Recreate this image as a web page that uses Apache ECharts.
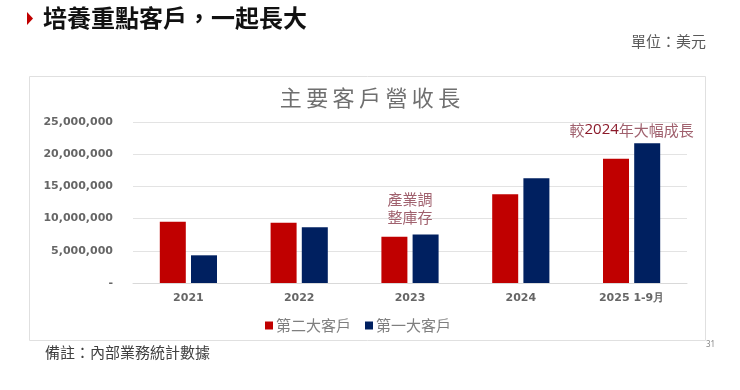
<!DOCTYPE html>
<html>
<head>
<meta charset="utf-8">
<script src="https://cdn.jsdelivr.net/npm/echarts@6/dist/echarts.min.js"></script>
<style>html,body{margin:0;padding:0;background:#fff;}#c{width:740px;height:390px;}</style>
</head>
<body>
<div id="c"></div>
<script>
const categories = ['2021', '2022', '2023', '2024', '2025 1-9月'];
const secondCustomer = [9500000, 9350000, 7200000, 13800000, 19300000];
const firstCustomer = [4300000, 8650000, 7550000, 16250000, 21700000];
const seriesNames = ['第二大客戶', '第一大客戶'];
const yTicks = [0, 5000000, 10000000, 15000000, 20000000, 25000000];
const notes = [
  { cat: '2023', value: 11650000, text: '產業調\n整庫存' },
  { cat: '2025 1-9月', value: 23750000, text: '{a|較}{b|2024}{a|年大幅成長}' }
];

const FONT = '"Noto Sans CJK TC", "Noto Sans", sans-serif';
const NUMFONT = '"DejaVu Sans", sans-serif';
const chart = echarts.init(document.getElementById('c'));
chart.setOption({
  backgroundColor: '#fff',
  animation: false,
  textStyle: { fontFamily: FONT },
  title: {
    text: '主 要 客 戶 營 收 長'.replace(/ /g, '\u2009'),
    left: 'center',
    top: 82,
    textStyle: { fontSize: 22, fontWeight: 'normal', color: '#6f6f6f', fontFamily: FONT }
  },
  legend: {
    data: seriesNames,
    left: 260,
    top: 313,
    itemWidth: 8,
    itemHeight: 8,
    itemGap: 14,
    icon: 'rect',
    textStyle: { fontSize: 15, color: '#7f7f7f', padding: [0, 0, 0, -2] }
  },
  grid: { left: 133, right: 53, top: 122, bottom: 107 },
  xAxis: {
    type: 'category',
    data: categories,
    axisLine: { show: true, lineStyle: { color: '#d9d9d9' } },
    axisTick: { show: false },
    axisLabel: { color: '#666', fontSize: 11, fontWeight: 'bold', margin: 10, fontFamily: NUMFONT }
  },
  yAxis: {
    type: 'value',
    min: yTicks[0],
    max: yTicks[yTicks.length - 1],
    interval: yTicks[1] - yTicks[0],
    axisLine: { show: false },
    axisTick: { show: false },
    splitLine: { lineStyle: { color: '#e3e3e3' } },
    axisLabel: {
      color: '#666', fontSize: 11, fontWeight: 'bold', margin: 20,
      fontFamily: NUMFONT,
      formatter: v => v === 0 ? '-' : v.toLocaleString('en-US')
    }
  },
  series: [
    {
      name: seriesNames[0], type: 'bar', data: secondCustomer,
      barWidth: 26, barGap: '20%',
      itemStyle: { color: '#c00000' }
    },
    {
      name: seriesNames[1], type: 'bar', data: firstCustomer,
      barWidth: 26, barGap: '20%',
      itemStyle: { color: '#002060' },
      markPoint: {
        symbol: 'circle', symbolSize: 0,
        label: {
          show: true, position: 'inside', offset: [-15.5, 0], fontSize: 15, lineHeight: 18,
          color: '#a0616e', fontFamily: FONT,
          formatter: p => p.name,
          rich: {
            a: { fontSize: 15, color: '#a0616e', fontFamily: FONT },
            b: { fontSize: 15, color: '#8b1a2a', fontFamily: '"Open Sans", sans-serif' }
          }
        },
        data: notes.map(n => ({ name: n.text, coord: [n.cat, n.value] }))
      }
    }
  ],
  graphic: [
    { type: 'polygon', shape: { points: [[27, 12], [33, 18.5], [27, 25]] }, style: { fill: '#c00000' } },
    { type: 'text', left: 43, top: 6, style: { text: '培養重點客戶，一起長大', font: 'bold 24px "Noto Sans CJK TC", sans-serif', fill: '#111' } },
    { type: 'text', left: 631, top: 34, style: { text: '單位：美元', font: '15px "Noto Sans CJK TC", sans-serif', fill: '#595959' } },
    { type: 'rect', z: -1, shape: { x: 29.5, y: 76.5, width: 676, height: 264 }, style: { fill: '#fff', stroke: '#e0e0e0', lineWidth: 1 } },
    { type: 'text', left: 45, top: 345, style: { text: '備註：內部業務統計數據', font: '15px "Noto Sans CJK TC", sans-serif', fill: '#404040' } },
    { type: 'text', left: 706, top: 341, style: { text: '31', font: '8px "Noto Sans", sans-serif', fill: '#888' } }
  ]
});
</script>
</body>
</html>
